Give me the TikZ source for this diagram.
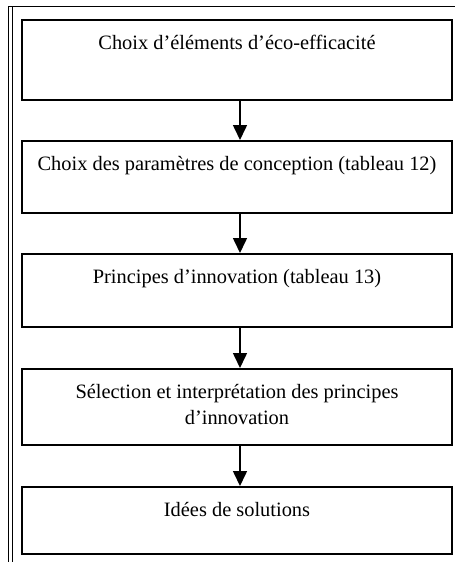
\documentclass[tikz,border=0pt]{standalone}
\usepackage{fontspec}
\setmainfont{Liberation Serif}
\usetikzlibrary{arrows.meta}

\begin{document}
\begin{tikzpicture}[x=1pt,y=-1pt,>={Triangle[width=14pt,length=15pt]},
  stage node/.style={draw,rectangle,line width=1.6pt,minimum width=430pt,
    inner xsep=0pt,inner ysep=0pt,align=center,anchor=north,
    font=\fontsize{20.4}{26}\selectfont,text height=30pt}]

  \useasboundingbox (0,0) rectangle (457,562);

  % cadre
  \draw[line width=1pt] (8.5,562) -- (8.5,6) -- (455,6);
  \draw[line width=1pt] (12,562) -- (12,6);

  \node[stage node,text depth=50pt] (s1) at (237,19) {Choix d’éléments d’éco-efficacité};
  \node[stage node,text depth=42pt] (s2) at (237,140) {Choix des paramètres de conception (tableau 12)};
  \node[stage node,text depth=43pt] (s3) at (237,253) {Principes d’innovation (tableau 13)};
  \node[stage node,text height=56pt,text depth=20pt] (s4) at (237,368) {Sélection et interprétation des principes\\ d’innovation};
  \node[stage node,text depth=37pt] (s5) at (237,486) {Idées de solutions};

  \path[->,line width=1.6pt]
    ([xshift=3pt]s1.south) edge ([xshift=3pt]s2.north)
    ([xshift=3pt]s2.south) edge ([xshift=3pt]s3.north)
    ([xshift=3pt]s3.south) edge ([xshift=3pt]s4.north)
    ([xshift=3pt]s4.south) edge ([xshift=3pt]s5.north)
    ;
\end{tikzpicture}
\end{document}
